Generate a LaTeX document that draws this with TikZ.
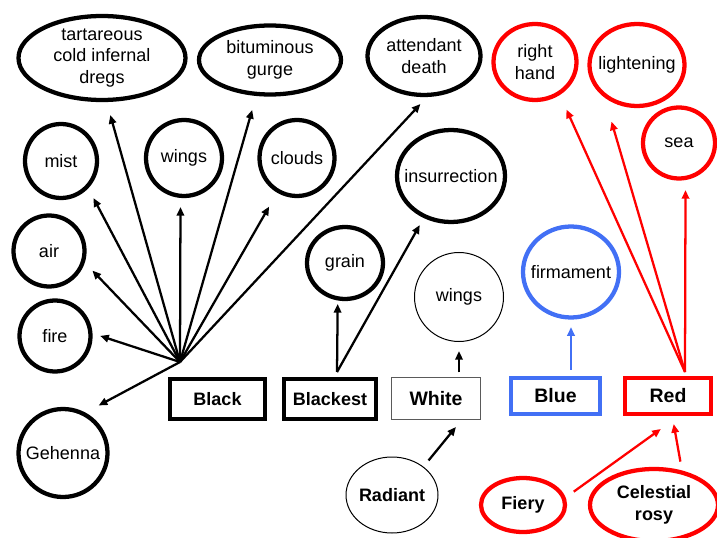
\documentclass[tikz,border=0pt]{standalone}
\usepackage{fontspec}
\setmainfont{Liberation Sans}
\usetikzlibrary{shapes.geometric,arrows.meta}
\definecolor{myblue}{RGB}{66,112,245}
\definecolor{myred}{RGB}{255,0,0}
\definecolor{mygray}{RGB}{90,90,90}
\tikzset{
  ov/.style 2 args={ellipse, inner sep=0pt, minimum width=#1*0.75pt, minimum height=#2*0.75pt},
  thk/.style={draw, line width=3.2pt},
  thn/.style={draw, line width=0.75pt},
  lab/.style={align=center, font=\fontsize{13.5}{16.2}\selectfont, inner sep=0pt},
  blab/.style={align=center, font=\fontsize{13.5}{16.2}\selectfont\bfseries, inner sep=0pt},
  clab/.style={align=center, font=\fontsize{14.6}{17}\selectfont\bfseries, inner sep=0pt},
  bx/.style 2 args={rectangle, inner sep=0pt, minimum width=#1*0.75pt, minimum height=#2*0.75pt},
  arr/.style={line width=1.7pt, -{Triangle[length=6.5pt,width=5.5pt]}},
}
\begin{document}
\begin{tikzpicture}[x=0.75pt,y=-0.75pt]
\useasboundingbox (0,0) rectangle (717,538);
% black ellipses
\node[ov={167}{84}, thk, label={[lab]center:tartareous\\cold infernal\\dregs}] (tart) at (102,58) {};
\node[ov={142}{69}, thk, label={[lab]center:bituminous\\gurge}] (bitum) at (270,60) {};
\node[ov={113}{78}, thk, label={[lab]center:attendant\\death}] (attend) at (424,56) {};
\node[ov={72}{74}, thk, label={[lab]center:mist}] (mist) at (61,161) {};
\node[ov={76}{76}, thk, label={[lab]center:wings}] (wingsB) at (184,158) {};
\node[ov={75}{76}, thk, label={[lab]center:clouds}] (clouds) at (297,158) {};
\node[ov={108}{92}, thk, label={[lab]center:insurrection}] (insur) at (451,176) {};
\node[ov={71}{71}, thk, label={[lab]center:air}] (air) at (49,251) {};
\node[ov={71}{71}, thk, label={[lab]center:fire}] (fire) at (55,336) {};
\node[ov={89}{88}, thk, label={[lab]center:Gehenna}] (gehenna) at (63,453) {};
\node[ov={76}{72}, thk, label={[lab]center:grain}] (grain) at (345,263) {};
% red ellipses
\node[ov={83}{76}, thk, draw=myred, label={[lab]center:right\\hand}] (rhand) at (535,62) {};
\node[ov={95}{82}, thk, draw=myred, label={[lab]center:lightening}] (light) at (637,65) {};
\node[ov={72}{71}, thk, draw=myred, label={[lab]center:sea}] (sea) at (679,143) {};
\node[ov={84}{54}, thk, draw=myred, label={[blab]center:Fiery}] (fiery) at (523,505) {};
\node[ov={128}{72}, thk, draw=myred, label={[blab]center:Celestial\\rosy}] (celest) at (654,505) {};
% blue ellipse
\node[ov={96}{91}, thk, draw=myblue, label={[lab]center:firmament}] (firm) at (571,272) {};
% thin ellipses
\node[ov={89}{89}, thn, label={[lab]center:wings}] (wingsW) at (459,297) {};
\node[ov={92}{76}, thn, label={[blab]center:Radiant}] (radiant) at (392,495) {};
% boxes
\node[bx={95}{40}, thk, label={[blab]center:Black}] (black) at (217.5,399) {};
\node[bx={92}{40}, thk, label={[blab]center:Blackest}] (blackest) at (330,399) {};
\node[bx={89}{42}, thn, draw=mygray, label={[clab]center:White}] (white) at (436,398.5) {};
\node[bx={89}{36}, thk, draw=myblue, label={[clab]center:Blue}] (blue) at (555.5,396) {};
\node[bx={86}{36}, thk, draw=myred, label={[clab]center:Red}] (red) at (668,396) {};
% fan origins
\coordinate (fan) at (180,362);
\coordinate (bfan) at (337,372);
\coordinate (rfan) at (685,372);
% black fan arrows
\draw[arr, shorten >=10.1pt] (fan) -- (tart.-84);
\draw[arr, shorten >=10.9pt] (fan) -- (bitum.-111);
\draw[arr, shorten >=7.1pt] (fan) -- (attend.-86);
\draw[arr, shorten >=8.25pt] (fan) -- (mist.-45);
\draw[arr, shorten >=6.75pt] (fan) -- (wingsB.-95);
\draw[arr, shorten >=12pt] (fan) -- (clouds);
\draw[arr, shorten >=8.25pt] (fan) -- (air.-18);
\draw[arr, shorten >=6pt] (fan) -- (fire.4);
\draw[arr, shorten >=11.25pt] (fan) -- (gehenna.61);
% blackest
\draw[arr, shorten >=2.6pt] (bfan) -- (grain.-101);
\draw[arr, shorten >=6pt] (bfan) -- (insur.-123);
% white
\draw[arr, shorten <=3.4pt, shorten >=6.75pt] (white.north -| wingsW.south) -- (wingsW.south);
\draw[arr, shorten <=6pt, shorten >=6.75pt] (radiant.42) -- (white.-40);
% blue
\draw[arr, draw=myblue, fill=myblue, shorten <=4.5pt, shorten >=5.6pt] (blue.north -| firm.south) -- (firm.south);
% red
\draw[arr, draw=myred, fill=myred, shorten >=12pt] (rfan) -- (rhand.-53);
\draw[arr, draw=myred, fill=myred, shorten >=18.75pt] (rfan) -- (light.-135);
\draw[arr, draw=myred, fill=myred, shorten >=7.5pt] (rfan) -- (sea.-80);
\draw[arr, draw=myred, fill=myred, shorten <=7.5pt, shorten >=16.5pt] (fiery.10) -- (red.-62);
\draw[arr, draw=myred, fill=myred, shorten <=6.75pt, shorten >=6pt] (celest.51) -- (red.-78);
\end{tikzpicture}
\end{document}
